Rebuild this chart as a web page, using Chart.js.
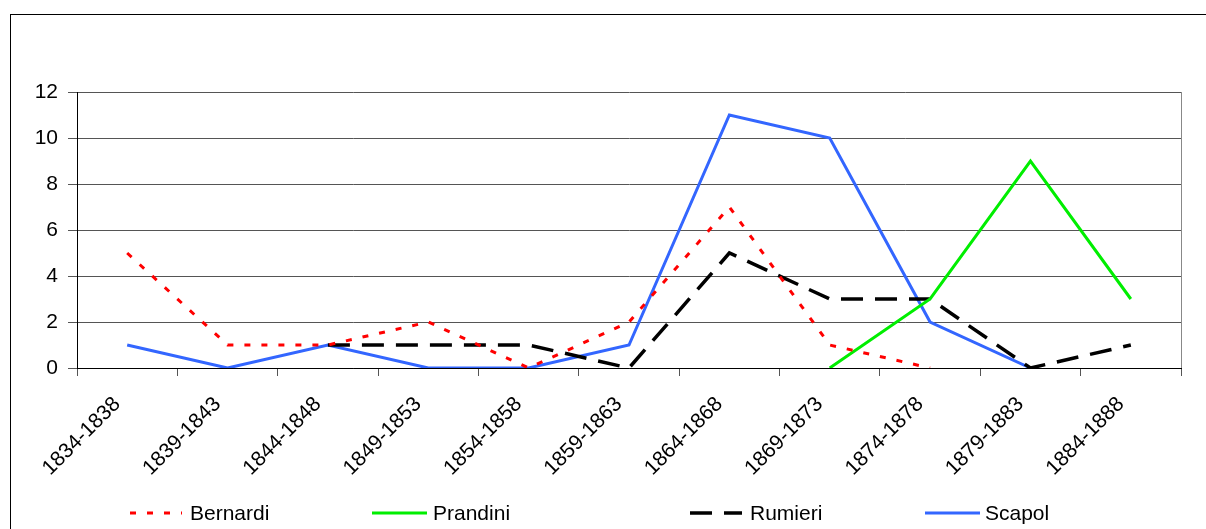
<!DOCTYPE html>
<html>
<head>
<meta charset="utf-8">
<script src="https://cdn.jsdelivr.net/npm/chart.js@4"></script>
<style>
html, body { margin: 0; padding: 0; background: #fff; overflow: hidden; }
#grafico { display: block; }
</style>
</head>
<body>
<canvas id="grafico" width="1206" height="529"></canvas>
<script>
const periodi = ['1834-1838', '1839-1843', '1844-1848', '1849-1853', '1854-1858', '1859-1863',
    '1864-1868', '1869-1873', '1874-1878', '1879-1883', '1884-1888'];
const bernardi = [5, 1, 1, 2, 0, 2, 7, 1, 0, null, null];
const prandini = [null, null, null, null, null, null, null, 0, 3, 9, 3];
const rumieri = [null, null, 1, 1, 1, 0, 5, 3, 3, 0, 1];
const scapol = [1, 0, 1, 0, 0, 1, 11, 10, 2, 0, null];
const yMin = 0, yMax = 12, yStep = 2;

const font = { family: '"Liberation Sans", Arial, sans-serif', size: 21 };

// cornice esterna + bordo destro dell'area del grafico
const cornice = {
    id: 'cornice',
    beforeDraw(chart) {
        const ctx = chart.ctx;
        ctx.save();
        ctx.strokeStyle = '#000';
        ctx.lineWidth = 1;
        ctx.strokeRect(10.5, 14.5, 1400, 700);
        ctx.restore();
    },
    afterDraw(chart) {
        const ctx = chart.ctx;
        const a = chart.chartArea;
        ctx.save();
        ctx.strokeStyle = '#888';
        ctx.lineWidth = 1;
        ctx.beginPath();
        ctx.moveTo(Math.round(a.right) + 0.5, a.top);
        ctx.lineTo(Math.round(a.right) + 0.5, a.bottom);
        ctx.stroke();
        ctx.restore();
    }
};

// legenda in basso con le posizioni dell'originale
const legenda = {
    id: 'legenda',
    afterDraw(chart) {
        const ctx = chart.ctx;
        const pos = [[130, 182, 190], [372, 427, 433], [690, 742, 750], [925, 980, 985]];
        const y = 513;
        ctx.save();
        chart.data.datasets.forEach((ds, i) => {
            const [x0, x1, xt] = pos[i];
            ctx.strokeStyle = ds.borderColor;
            ctx.lineWidth = ds.borderWidth;
            ctx.setLineDash(ds.borderDash || []);
            ctx.beginPath();
            ctx.moveTo(x0, y);
            ctx.lineTo(x1, y);
            ctx.stroke();
            ctx.setLineDash([]);
            ctx.fillStyle = '#000';
            ctx.font = font.size + 'px ' + font.family;
            ctx.textBaseline = 'middle';
            ctx.textAlign = 'left';
            ctx.fillText(ds.label, xt, y + 1);
        });
        ctx.restore();
    }
};

new Chart(document.getElementById('grafico'), {
    type: 'line',
    data: {
        labels: periodi,
        datasets: [
            { label: 'Bernardi', data: bernardi, borderColor: '#ff0000', borderWidth: 3, borderDash: [6, 11] },
            { label: 'Prandini', data: prandini, borderColor: '#00ee00', borderWidth: 3 },
            { label: 'Rumieri', data: rumieri, borderColor: '#000000', borderWidth: 3.5, borderDash: [22, 12] },
            { label: 'Scapol', data: scapol, borderColor: '#3366ff', borderWidth: 3 }
        ]
    },
    options: {
        responsive: false,
        animation: false,
        elements: {
            point: { radius: 0 },
            line: { tension: 0, fill: false }
        },
        layout: { padding: { left: 0, top: 92, right: 25, bottom: 51 } },
        scales: {
            x: {
                offset: true,
                grid: { drawOnChartArea: false, color: '#555', tickLength: 8, offset: true },
                border: { color: '#000', width: 1 },
                ticks: {
                    autoSkip: false,
                    minRotation: 45,
                    maxRotation: 45,
                    color: '#000',
                    font: font,
                    labelOffset: -10,
                    padding: 16
                },
                afterFit(scale) { scale.height = 110; }
            },
            y: {
                min: yMin,
                max: yMax,
                grid: { color: '#555', tickLength: 9 },
                border: { color: '#000', width: 1 },
                ticks: { stepSize: yStep, color: '#000', font: font, padding: 10 },
                afterFit(scale) { scale.width = 77; }
            }
        },
        plugins: {
            legend: { display: false },
            tooltip: { enabled: false }
        }
    },
    plugins: [cornice, legenda]
});
</script>
</body>
</html>
